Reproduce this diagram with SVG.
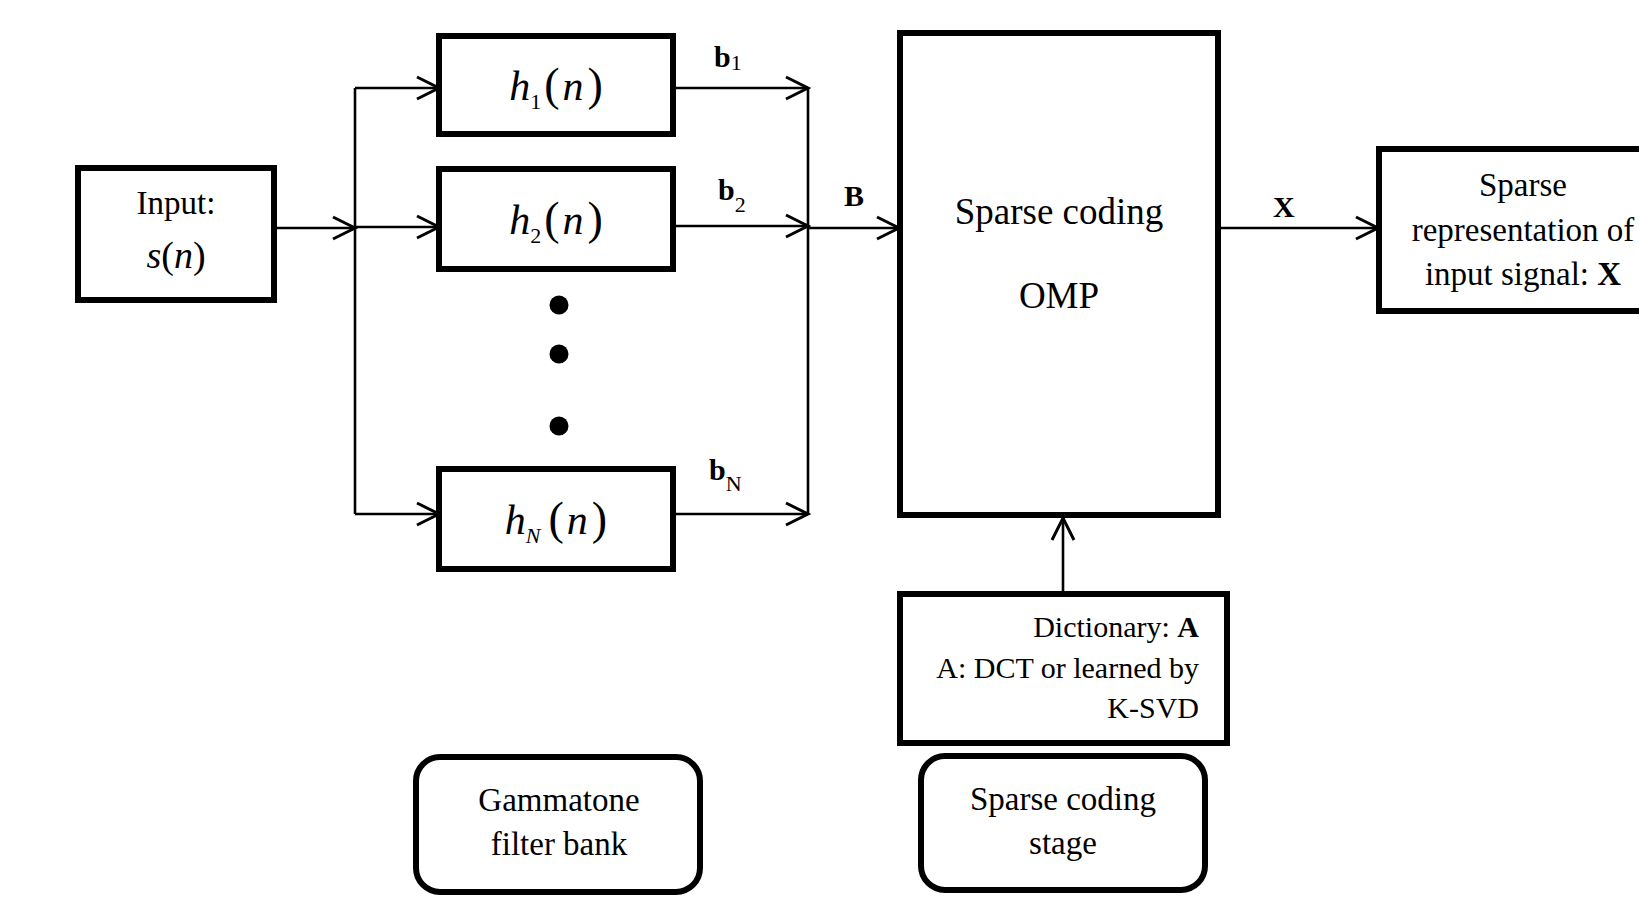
<svg xmlns="http://www.w3.org/2000/svg" width="1639" height="903" viewBox="0 0 1639 903">
<defs>
<marker id="arr" markerUnits="userSpaceOnUse" markerWidth="30" markerHeight="30" refX="23" refY="13" orient="auto">
<path d="M1,2 L23,13 L1,24" fill="none" stroke="#000" stroke-width="3"/>
</marker>
<style>
.box{fill:#fff;stroke:#000;stroke-width:6}
.rbox{fill:#fff;stroke:#000;stroke-width:6}
.ln{fill:none;stroke:#000;stroke-width:2.6}
.t{font-family:"Liberation Serif","Times New Roman",serif;fill:#000}
.m{font-family:"Liberation Serif","Times New Roman",serif;fill:#000;font-size:42px}
.bl{font-family:"Liberation Serif","Times New Roman",serif;fill:#000;font-weight:bold;font-size:30px}
</style>
</defs>
<rect width="1639" height="903" fill="#fff"/>
<g id="connectors">
<line class="ln" x1="274" y1="228" x2="355" y2="228" marker-end="url(#arr)"/>
<polyline class="ln" points="355,88 355,514"/>
<line class="ln" x1="355" y1="88" x2="439" y2="88" marker-end="url(#arr)"/>
<line class="ln" x1="355" y1="227" x2="439" y2="227" marker-end="url(#arr)"/>
<line class="ln" x1="355" y1="514" x2="439" y2="514" marker-end="url(#arr)"/>
<line class="ln" x1="673" y1="88" x2="808" y2="88" marker-end="url(#arr)"/>
<line class="ln" x1="673" y1="226" x2="808" y2="226" marker-end="url(#arr)"/>
<line class="ln" x1="673" y1="514" x2="808" y2="514" marker-end="url(#arr)"/>
<polyline class="ln" points="808,88 808,514"/>
<line class="ln" x1="808" y1="228" x2="899" y2="228" marker-end="url(#arr)"/>
<line class="ln" x1="1218" y1="228" x2="1378" y2="228" marker-end="url(#arr)"/>
<line class="ln" x1="1063" y1="594" x2="1063" y2="518" marker-end="url(#arr)"/>
<text class="bl" x="714" y="67">b<tspan font-weight="normal" font-size="22" dy="3">1</tspan></text>
<text class="bl" x="718" y="200">b<tspan font-weight="normal" font-size="22" dy="12">2</tspan></text>
<text class="bl" x="709" y="480">b<tspan font-weight="normal" font-size="22" dy="11">N</tspan></text>
<text class="bl" x="844" y="206">B</text>
<text class="bl" x="1273" y="217">X</text>
</g>
<g id="input">
<rect class="box" x="78" y="168" width="196" height="132"/>
<text class="t" x="176" y="214" font-size="33" text-anchor="middle">Input:</text>
<text class="t" x="176" y="268" font-size="38" text-anchor="middle"><tspan font-style="italic">s</tspan>(<tspan font-style="italic">n</tspan>)</text>
</g>
<g id="h1">
<rect class="box" x="439" y="36" width="234" height="98"/>
<text class="m" x="556" y="100" text-anchor="middle"><tspan font-style="italic">h</tspan><tspan font-size="22" dy="9">1</tspan><tspan dy="-9" dx="3" font-size="46">(</tspan><tspan dx="3" font-style="italic">n</tspan><tspan dx="4" font-size="46">)</tspan></text>
</g>
<g id="h2">
<rect class="box" x="439" y="169" width="234" height="100"/>
<text class="m" x="556" y="234" text-anchor="middle"><tspan font-style="italic">h</tspan><tspan font-size="22" dy="9">2</tspan><tspan dy="-9" dx="3" font-size="46">(</tspan><tspan dx="3" font-style="italic">n</tspan><tspan dx="4" font-size="46">)</tspan></text>
</g>
<g id="dots">
<circle cx="559" cy="305" r="9.5"/>
<circle cx="559" cy="354" r="9.5"/>
<circle cx="559" cy="426" r="9.5"/>
</g>
<g id="hN">
<rect class="box" x="439" y="469" width="234" height="100"/>
<text class="m" x="556" y="534" text-anchor="middle"><tspan font-style="italic">h</tspan><tspan font-size="22" font-style="italic" dy="9">N</tspan><tspan dy="-9" dx="8" font-size="46">(</tspan><tspan dx="3" font-style="italic">n</tspan><tspan dx="4" font-size="46">)</tspan></text>
</g>
<g id="sparse">
<rect class="box" x="900" y="33" width="318" height="482"/>
<text class="t" x="1059" y="224" font-size="37" text-anchor="middle">Sparse coding</text>
<text class="t" x="1059" y="308" font-size="37" text-anchor="middle">OMP</text>
</g>
<g id="output">
<rect class="box" x="1379" y="149" width="290" height="162"/>
<text class="t" x="1523" y="196" font-size="33" text-anchor="middle">Sparse</text>
<text class="t" x="1523" y="241" font-size="33" text-anchor="middle">representation of</text>
<text class="t" x="1523" y="285" font-size="33" text-anchor="middle">input signal: <tspan font-weight="bold">X</tspan></text>
</g>
<g id="dictionary">
<rect class="box" x="900" y="594" width="327" height="149"/>
<text class="t" x="1199" y="637" font-size="30" text-anchor="end">Dictionary: <tspan font-weight="bold">A</tspan></text>
<text class="t" x="1199" y="678" font-size="30" text-anchor="end">A: DCT or learned by</text>
<text class="t" x="1199" y="718" font-size="30" text-anchor="end">K-SVD</text>
</g>
<g id="gammatone">
<rect class="rbox" x="416" y="757" width="284" height="135" rx="24"/>
<text class="t" x="559" y="811" font-size="33" text-anchor="middle">Gammatone</text>
<text class="t" x="559" y="855" font-size="33" text-anchor="middle">filter bank</text>
</g>
<g id="stage">
<rect class="rbox" x="921" y="756" width="284" height="134" rx="24"/>
<text class="t" x="1063" y="810" font-size="33" text-anchor="middle">Sparse coding</text>
<text class="t" x="1063" y="854" font-size="33" text-anchor="middle">stage</text>
</g>
</svg>
